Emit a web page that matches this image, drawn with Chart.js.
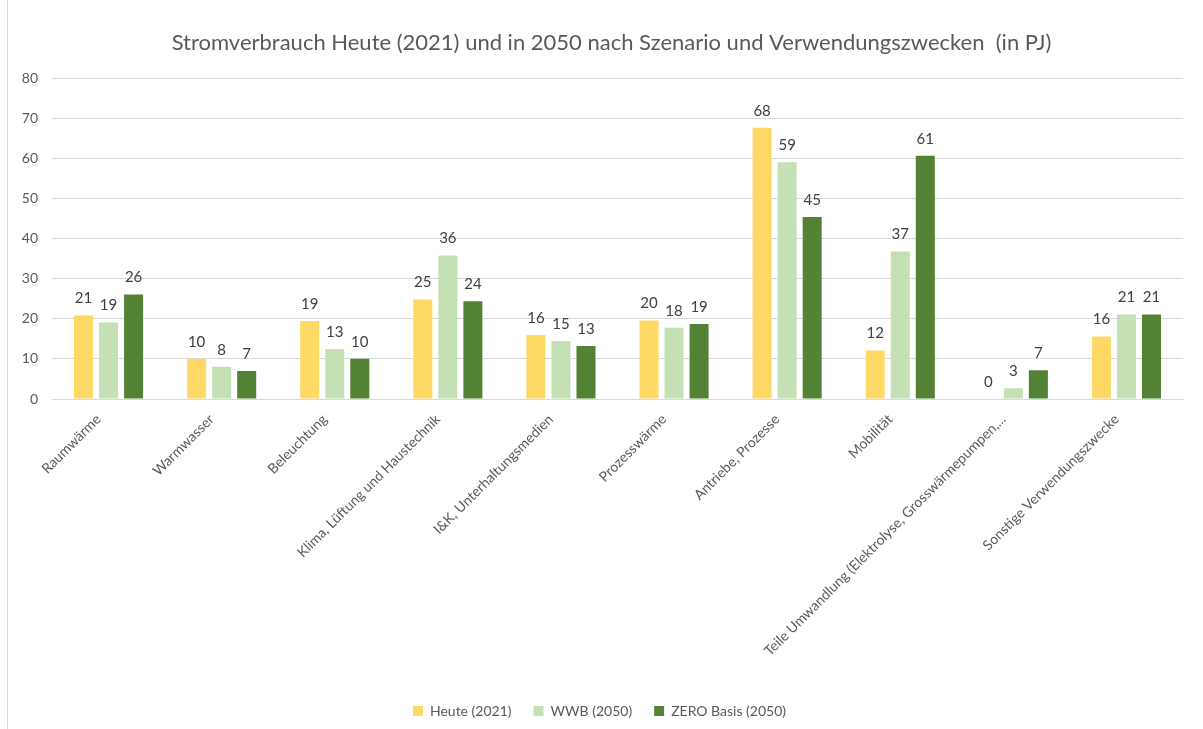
<!DOCTYPE html>
<html><head><meta charset="utf-8">
<script src="https://cdn.jsdelivr.net/npm/chart.js@4"></script>
<style>
html,body{margin:0;padding:0;background:#fff;}
#wrap{position:absolute;left:0;top:0;width:1203px;height:729px;}
#frame{position:absolute;left:7px;top:-2px;width:1300px;height:800px;border:1px solid #d9d9d9;box-sizing:border-box;}
</style></head>
<body>
<div id="wrap"><div id="frame"></div><canvas id="c" width="1203" height="729"></canvas></div>
<script>
const categories = ["Raumwärme","Warmwasser","Beleuchtung","Klima, Lüftung und Haustechnik","I&K, Unterhaltungsmedien","Prozesswärme","Antriebe, Prozesse","Mobilität","Teile Umwandlung (Elektrolyse, Grosswärmepumpen,...","Sonstige Verwendungszwecke"];
const heute2021 = [20.85, 9.97, 19.45, 24.8, 16.0, 19.6, 67.7, 12.1, 0, 15.6];
const wwb2050 = [19.1, 8.06, 12.5, 35.8, 14.5, 17.8, 59.05, 36.8, 2.7, 21.1];
const zeroBasis2050 = [26.1, 6.98, 10.06, 24.4, 13.2, 18.7, 45.4, 60.7, 7.2, 21.1];
const yTicks = [0,10,20,30,40,50,60,70,80];
const seriesNames = ["Heute (2021)","WWB (2050)","ZERO Basis (2050)"];
const colors = ["#FFD966","#C5E0B4","#548235"];
const FONT = "Lato";

const labelPlugin = {
  id:'valueLabels',
  afterLayout(chart){
    const t = chart.titleBlock; if(t){ t.left += 16; t.right += 16; }
    const l = chart.legend; if(l){ l.left += 4; l.right += 4; }
  },
  afterDatasetsDraw(chart){
    const ctx = chart.ctx;
    ctx.save();
    ctx.font = "15px " + FONT;
    ctx.fillStyle = "#404040";
    ctx.textAlign = "center";
    ctx.textBaseline = "middle";
    chart.data.datasets.forEach((ds,i)=>{
      const meta = chart.getDatasetMeta(i);
      meta.data.forEach((el,j)=>{
        ctx.fillText(String(Math.round(ds.data[j])), el.x, el.y - 17);
      });
    });
    ctx.restore();
  }
};

new Chart(document.getElementById('c'), {
  type:'bar',
  data:{
    labels:categories,
    datasets:[
      {label:seriesNames[0], data:heute2021, backgroundColor:colors[0]},
      {label:seriesNames[1], data:wwb2050, backgroundColor:colors[1]},
      {label:seriesNames[2], data:zeroBasis2050, backgroundColor:colors[2]}
    ]
  },
  options:{
    responsive:false,
    animation:false,
    devicePixelRatio:1,
    categoryPercentage:0.664,
    barPercentage:0.76,
    layout:{padding:{left:8,right:20,top:0,bottom:1}},
    plugins:{
      title:{display:true,text:"Stromverbrauch Heute (2021) und in 2050 nach Szenario und Verwendungszwecken  (in PJ)",
        color:"#595959",font:{family:FONT,size:22,weight:'normal'},padding:{top:30,bottom:22}},
      legend:{position:'bottom',labels:{color:"#595959",font:{family:FONT,size:14},boxWidth:10,boxHeight:10,padding:22}},
      tooltip:{enabled:false}
    },
    scales:{
      x:{
        grid:{display:false},
        border:{color:"#d9d9d9"},
        afterFit(s){ s.height = 283; },
        ticks:{color:"#595959",font:{family:FONT,size:14},minRotation:45,maxRotation:45,autoSkip:false,padding:4,labelOffset:-10}
      },
      y:{
        min:0,max:80,
        afterBuildTicks(s){ s.ticks = yTicks.map(v=>({value:v})); },
        afterFit(s){ s.width = 44; },
        grid:{color:"#d9d9d9",drawTicks:false},
        border:{display:false},
        ticks:{color:"#595959",font:{family:FONT,size:14},padding:14}
      }
    }
  },
  plugins:[labelPlugin]
});
</script>
</body></html>
